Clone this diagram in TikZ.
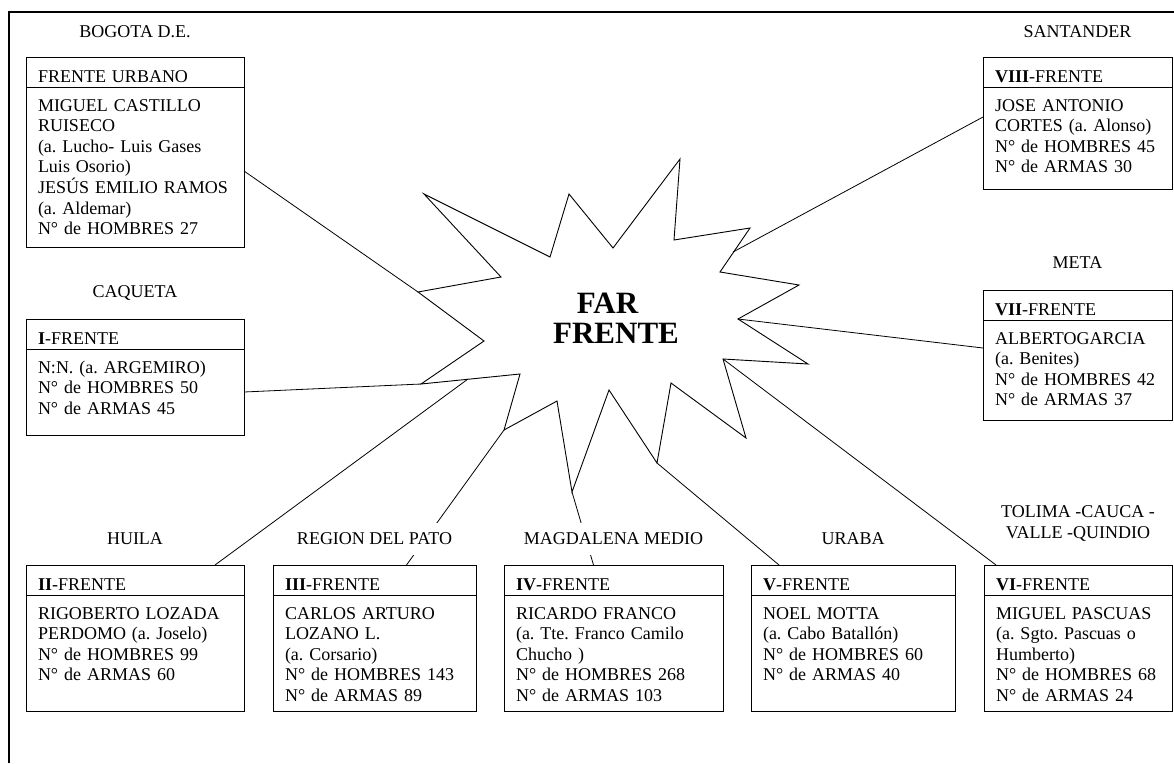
\documentclass[tikz,border=0pt]{standalone}
\usepackage{fontspec}
\setmainfont{Liberation Serif}
\usetikzlibrary{positioning}
\frenchspacing

\begin{document}
\begin{tikzpicture}[x=1pt, y=-1pt,
           font = \fontsize{18}{20.6}\selectfont,
  node distance = 10pt,
     head/.style = {draw, line width=0.8pt, outer sep=0pt, inner xsep=12pt, inner ysep=0pt,
                    text width=#1, text height=25pt, text depth=5pt, align=left, anchor=north west},
     body/.style = {draw, line width=0.8pt, outer sep=0pt, inner xsep=12pt, inner ysep=0pt,
                    text width=#1, text height=24pt, align=left},
   region/.style = {fill=white, inner xsep=3pt, inner ysep=7pt, text height=15pt, text depth=3pt},
     link/.style = {line width=0.8pt}
                    ]
\useasboundingbox (0,0) rectangle (1174,763);
% marco
\draw[line width=2pt] (9,763) -- (9,12) -- (1174,12);

% frentes de la izquierda
\node[head=194pt] (hUrb) at (26,57) {FRENTE URBANO};
\node[body=194pt, text depth=136pt, below=0pt of hUrb] (urb)
  {MIGUEL CASTILLO\\RUISECO\\(a. Lucho- Luis Gases\\Luis Osorio)\\JESÚS EMILIO RAMOS\\(a. Aldemar)\\N° de HOMBRES 27};
\node[head=194pt] (h1) at (26,319) {\textbf{I}-FRENTE};
\node[body=194pt, text depth=62pt, below=0pt of h1] (f1)
  {N:N. (a. ARGEMIRO)\\N° de HOMBRES 50\\N° de ARMAS 45};

% frentes de la derecha
\node[head=165pt] (h8) at (983,57) {\textbf{VIII}-FRENTE};
\node[body=165pt, text depth=78pt, below=0pt of h8] (f8)
  {JOSE ANTONIO\\CORTES (a. Alonso)\\N° de HOMBRES 45\\N° de ARMAS 30};
\node[head=165pt] (h7) at (983,290) {\textbf{VII}-FRENTE};
\node[body=165pt, text depth=76pt, below=0pt of h7] (f7)
  {ALBERTOGARCIA\\(a. Benites)\\N° de HOMBRES 42\\N° de ARMAS 37};

% frentes de abajo
\node[head=194pt] (h2) at (26,565) {\textbf{II}-FRENTE};
\node[body=194pt, text depth=92pt, below=0pt of h2] (f2)
  {RIGOBERTO LOZADA\\PERDOMO (a. Joselo)\\N° de HOMBRES 99\\N° de ARMAS 60};
\node[head=179pt] (h3) at (273,565) {\textbf{III}-FRENTE};
\node[body=179pt, text depth=92pt, below=0pt of h3] (f3)
  {CARLOS ARTURO\\LOZANO L.\\(a. Corsario)\\N° de HOMBRES 143\\N° de ARMAS 89};
\node[head=195pt] (h4) at (504,565) {\textbf{IV}-FRENTE};
\node[body=195pt, text depth=92pt, below=0pt of h4] (f4)
  {RICARDO FRANCO\\(a. Tte. Franco Camilo\\Chucho )\\N° de HOMBRES 268\\N° de ARMAS 103};
\node[head=180pt] (h5) at (751,565) {\textbf{V}-FRENTE};
\node[body=180pt, text depth=92pt, below=0pt of h5] (f5)
  {NOEL MOTTA\\(a. Cabo Batallón)\\N° de HOMBRES 60\\N° de ARMAS 40};
\node[head=164pt] (h6) at (984,565) {\textbf{VI}-FRENTE};
\node[body=164pt, text depth=92pt, below=0pt of h6] (f6)
  {MIGUEL PASCUAS\\(a. Sgto. Pascuas o\\Humberto)\\N° de HOMBRES 68\\N° de ARMAS 24};

% estrella
\draw[line width=0.9pt]
  (424,194) coordinate (s1) -- (550,257) coordinate (s2) -- (569,194) coordinate (s3)
  -- (613,248) coordinate (s4) -- (680,159) coordinate (s5) -- (674,240) coordinate (s6)
  -- (750,228) coordinate (s7) -- (720,272) coordinate (s8) -- (799,285) coordinate (s9)
  -- (738,319) coordinate (s10) -- (808,364) coordinate (s11) -- (723,359) coordinate (s12)
  -- (746,438) coordinate (s13) -- (671,383) coordinate (s14) -- (657,463) coordinate (s15)
  -- (609,390) coordinate (s16) -- (572,492) coordinate (s17) -- (557,401) coordinate (s18)
  -- (504,430) coordinate (s19) -- (520,374) coordinate (s20) -- (421,384) coordinate (s21)
  -- (484,341) coordinate (s22) -- (418,292) coordinate (s23) -- (501,277) coordinate (s24)
  -- cycle;
\coordinate (p2) at (468,379);
\coordinate (p8) at (733,252);
\node[font=\fontsize{31}{30}\selectfont\bfseries, align=center] (far) at (616,318)
  {FAR\hspace*{17pt}\\FRENTE};

% lineas
\draw[link] ([yshift=-4pt]urb.east) -- (s23);
\draw[link] (f1.east) -- (s21);
\draw[link] ([xshift=80pt]h2.north) -- (p2);
\draw[link] ([xshift=32pt]h3.north) -- (s19);
\draw[link] ([xshift=-20pt]h4.north) -- (s17);
\draw[link] ([xshift=-74pt]h5.north) -- (s15);
\draw[link] ([xshift=-82pt]h6.north) -- (s12);
\draw[link] ([yshift=22pt]f7.west) -- (s10);
\draw[link] ([yshift=21pt]f8.west) -- (p8);

% regiones
\node[region, above=9pt of hUrb] (lBog) {BOGOTA D.E.};
\node[region, above=11pt of h1] (lCaq) {CAQUETA};
\node[region, above=9pt of h8] (lSan) {SANTANDER};
\node[region, above=11pt of h7] (lMet) {META};
\node[region, above=of h2] (lHui) {HUILA};
\node[region, above=of h3] (lPat) {REGION DEL PATO};
\node[region, above=of h4] (lMag) {MAGDALENA MEDIO};
\node[region, above=of h5] (lUra) {URABA};
\node[align=center, above=20pt of h6] (lTol) {TOLIMA -CAUCA -\\VALLE -QUINDIO};
\end{tikzpicture}
\end{document}
